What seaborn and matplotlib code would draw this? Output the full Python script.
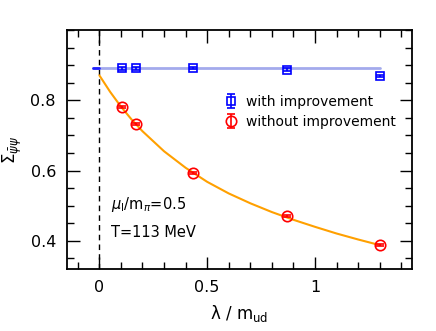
import numpy as np
import pandas as pd
import matplotlib
matplotlib.use("Agg")
import matplotlib.pyplot as plt
import matplotlib.ticker as ticker
import seaborn as sns

# data
lam = [0.106, 0.170, 0.432, 0.869, 1.300]
sigma_with = [0.891, 0.891, 0.892, 0.887, 0.869]
err_with = [0.004, 0.004, 0.004, 0.004, 0.004]
sigma_without = [0.781, 0.732, 0.594, 0.470, 0.388]
err_without = [0.003, 0.003, 0.003, 0.003, 0.003]

# fit curve (orange)
fit_lam = [0.0, 0.05, 0.1, 0.15, 0.2, 0.3, 0.4, 0.5, 0.6, 0.7, 0.8, 0.9, 1.0, 1.1, 1.2, 1.3]
fit_sigma = [0.871, 0.824, 0.782, 0.745, 0.712, 0.655, 0.608, 0.568, 0.535, 0.507,
             0.482, 0.460, 0.440, 0.421, 0.404, 0.388]

# constant fit (blue)
const_lam = [-0.03, 1.30]
const_sigma = [0.891, 0.891]

sns.set_style("ticks", {'axes.edgecolor': 'black', 'text.color': 'black',
                        'xtick.color': 'black', 'ytick.color': 'black',
                        'axes.labelcolor': 'black'})
plt.rcParams['font.family'] = ['DejaVu Sans']
plt.rcParams['mathtext.fontset'] = 'dejavusans'

fig = plt.figure(figsize=(4.36, 3.31), dpi=100)
ax = fig.add_axes([0.1537, 0.1873, 0.7913, 0.7221])

ax.axvline(0, color='black', ls=(0, (4, 3)), lw=1.0, zorder=1)

df_const = pd.DataFrame({'lam': const_lam, 'sigma': const_sigma})
sns.lineplot(data=df_const, x='lam', y='sigma', color='#a3aaec', lw=2, ax=ax, zorder=2)
ax.plot([-0.03, 0.0], [0.891, 0.891], color='#2020ff', lw=2, zorder=3)

df_fit = pd.DataFrame({'lam': fit_lam, 'sigma': fit_sigma})
sns.lineplot(data=df_fit, x='lam', y='sigma', color='#ffa000', lw=1.5, ax=ax, zorder=2)

h1 = ax.errorbar(lam, sigma_with, yerr=err_with, fmt='s', color='#0000ff', mfc='none',
                 ms=5.5, mew=1.2, capsize=3, elinewidth=1.2, capthick=1.2, zorder=4,
                 label='with improvement')
h2 = ax.errorbar(lam, sigma_without, yerr=err_without, fmt='o', color='#ff0000', mfc='none',
                 ms=7.5, mew=1.2, capsize=3, elinewidth=1.2, capthick=1.2, zorder=4,
                 label='without improvement')

ax.set_xlim(-0.15, 1.45)
ax.set_ylim(0.32, 1.0)
ax.xaxis.set_major_locator(ticker.FixedLocator([0, 0.5, 1]))
ax.xaxis.set_major_formatter(ticker.FixedFormatter(['0', '0.5', '1']))
ax.xaxis.set_minor_locator(ticker.MultipleLocator(0.1))
ax.yaxis.set_major_locator(ticker.FixedLocator([0.4, 0.6, 0.8]))
ax.yaxis.set_major_formatter(ticker.FixedFormatter(['0.4', '0.6', '0.8']))
ax.yaxis.set_minor_locator(ticker.MultipleLocator(0.05))
ax.tick_params(which='both', direction='in', top=True, right=True, width=1.0,
               labelsize=11.5, pad=8, colors='black')
ax.tick_params(which='major', length=9)
ax.tick_params(which='minor', length=5)
for s in ax.spines.values():
    s.set_linewidth(1.3)
    s.set_color('black')

ax.set_xlabel(r'λ / m$_{\rm ud}$', fontsize=12, labelpad=6, color='black')
ax.set_ylabel(r'$\Sigma_{\bar\psi\psi}$', fontsize=12, color='black')
ax.yaxis.set_label_coords(-0.125, 0.5)

ax.text(0.1275, 0.268, r'$\mu_{\rm I}$/m$_\pi$=0.5', transform=ax.transAxes,
        fontsize=10.5, va='center', color='black')
ax.text(0.1275, 0.152, 'T=113 MeV', transform=ax.transAxes, fontsize=10.5, va='center',
        color='black')

leg = ax.legend(handles=[h1, h2], loc='upper left', bbox_to_anchor=(0.43, 0.77),
                frameon=False, fontsize=10, handlelength=0.9, handletextpad=0.6,
                labelspacing=0.45, borderpad=0.2)
for t in leg.get_texts():
    t.set_color('black')

fig.savefig('out.png', dpi=100)
